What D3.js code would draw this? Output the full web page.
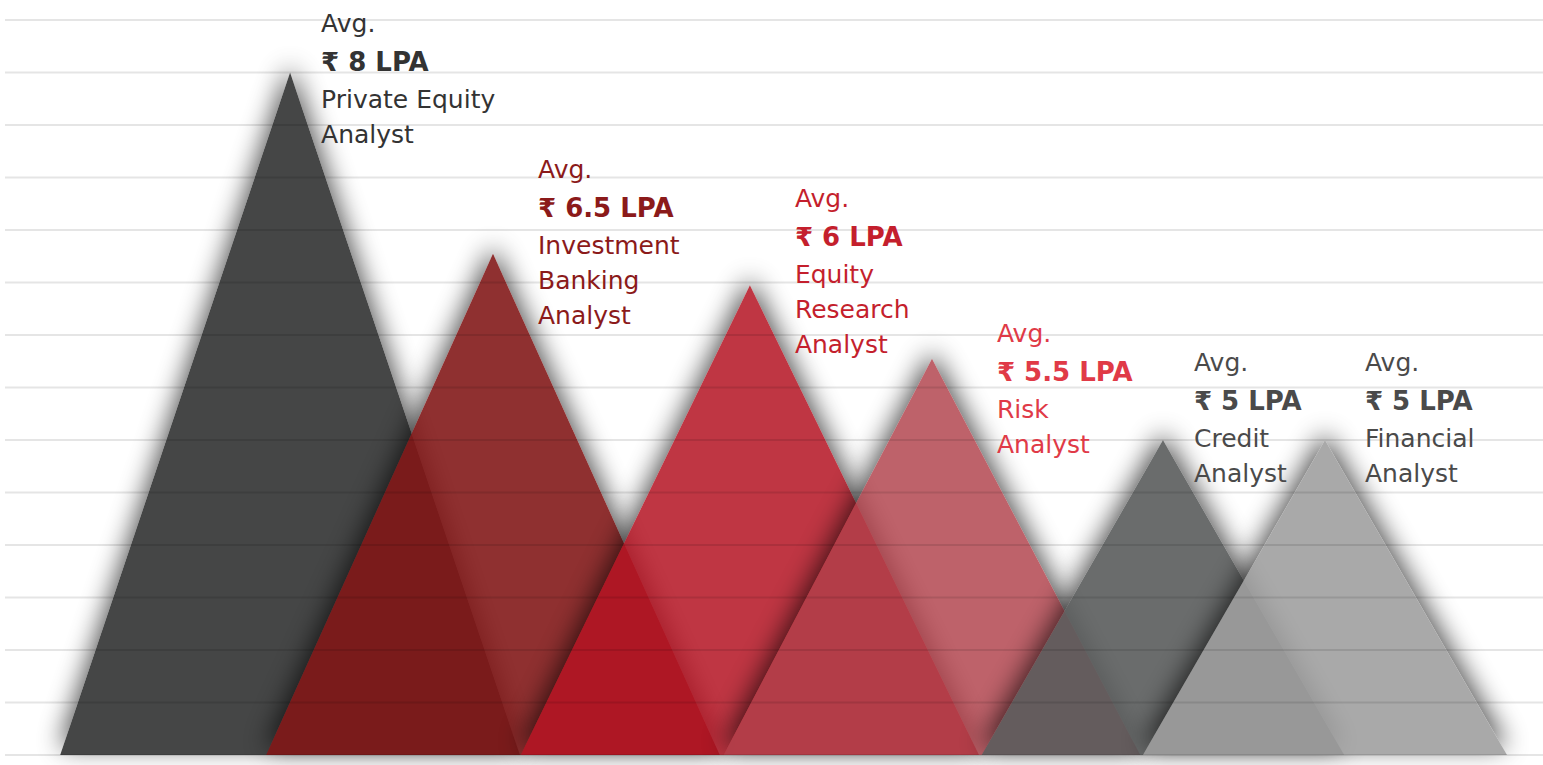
<!DOCTYPE html>
<html>
<head>
<meta charset="utf-8">
<script src="https://cdn.jsdelivr.net/npm/d3@7"></script>
<style>
  html, body { margin: 0; padding: 0; background: #fff; }
  svg { display: block; font-family: "DejaVu Sans", "Noto Sans", sans-serif; }
</style>
</head>
<body>
<svg id="chart" width="1543" height="765"></svg>
<script>
// chart data
var roles = [
  ["Private Equity", "Analyst"],
  ["Investment", "Banking", "Analyst"],
  ["Equity", "Research", "Analyst"],
  ["Risk", "Analyst"],
  ["Credit", "Analyst"],
  ["Financial", "Analyst"]
];
var salaries = [8, 6.5, 6, 5.5, 5, 5];           // avg LPA (label)
var peaks = [13, 9.55, 8.95, 7.55, 6, 6];        // triangle height in grid steps
var centers = [18.8, 31.95, 48.6, 60.4, 75.37, 85.87]; // % of width
var halfWidths = [14.9, 14.7, 14.85, 13.5, 11.75, 11.8];

var fills = ["#454646", "#811717", "#b41322", "#b03f49", "#5a5c5c", "#9e9e9e"];
var alphas = [1, 0.89, 0.85, 0.82, 0.9, 0.885];
var labelColors = ["#333333", "#8b1a1a", "#c41f2d", "#e03a47", "#4a4a4a", "#4a4a4a"];
// where the label block sits relative to the peak
var labelOffset = [[31, -41], [45, -76], [45, -78], [65, -17], [31, -69], [40, -69]];

var svg = d3.select("#chart"),
  W = +svg.attr("width"),
  H = +svg.attr("height");

var x = d3.scaleLinear().domain([0, 100]).range([0, W]);
var y = d3.scaleLinear().domain([0, 14]).range([755, 20]);

var defs = svg.append("defs");
var f = defs.append("filter")
  .attr("id", "blur")
  .attr("x", "-30%").attr("y", "-30%")
  .attr("width", "160%").attr("height", "160%");
f.append("feGaussianBlur").attr("in", "SourceGraphic").attr("stdDeviation", 13).attr("result", "b");
f.append("feOffset").attr("in", "b").attr("dy", -8);

var data = salaries.map(function (s, i) {
  return { i: i, salary: s, peak: peaks[i], c: centers[i], hw: halfWidths[i], role: roles[i] };
});

function tri(d) {
  return d3.line()([
    [x(d.c - d.hw), y(0)],
    [x(d.c), y(d.peak)],
    [x(d.c + d.hw), y(0)]
  ]) + "Z";
}

// masks so a shadow never shows through its own triangle
data.forEach(function (d) {
  var m = defs.append("mask").attr("id", "m" + d.i)
    .attr("maskUnits", "userSpaceOnUse")
    .attr("x", 0).attr("y", 0).attr("width", W).attr("height", H);
  m.append("rect").attr("width", W).attr("height", H).attr("fill", "#fff");
  m.append("path").attr("d", tri(d)).attr("fill", "#000");
});

var g = svg.append("g");

data.forEach(function (d) {
  g.append("g")
    .attr("mask", "url(#m" + d.i + ")")
    .append("path")
    .attr("d", tri(d))
    .attr("fill", "#000")
    .attr("opacity", 0.7)
    .attr("filter", "url(#blur)");
  g.append("path")
    .attr("d", tri(d))
    .attr("fill", fills[d.i])
    .attr("fill-opacity", alphas[d.i]);
});

// grid lines drawn over the shapes
svg.append("g")
  .selectAll("line")
  .data(d3.range(0, 15))
  .enter()
  .append("line")
  .attr("x1", 5)
  .attr("x2", W)
  .attr("y1", function (v) { return y(v); })
  .attr("y2", function (v) { return y(v); })
  .attr("stroke", "rgba(0,0,0,0.1)")
  .attr("stroke-width", 2);

// labels
var labels = svg.append("g")
  .selectAll("g")
  .data(data)
  .enter()
  .append("g")
  .attr("transform", function (d) {
    var o = labelOffset[d.i];
    return "translate(" + (x(d.c) + o[0]) + "," + (y(d.peak) + o[1]) + ")";
  })
  .attr("fill", function (d) { return labelColors[d.i]; });

labels.append("text")
  .attr("font-size", 25)
  .text("Avg.");

labels.append("text")
  .attr("y", 39)
  .attr("font-size", 26)
  .attr("font-weight", "bold")
  .text(function (d) { return "\u20b9 " + d.salary + " LPA"; });

labels.each(function (d) {
  var sel = d3.select(this);
  d.role.forEach(function (line, k) {
    sel.append("text")
      .attr("y", 76 + k * 35)
      .attr("font-size", 25)
      .text(line);
  });
});
</script>
</body>
</html>
